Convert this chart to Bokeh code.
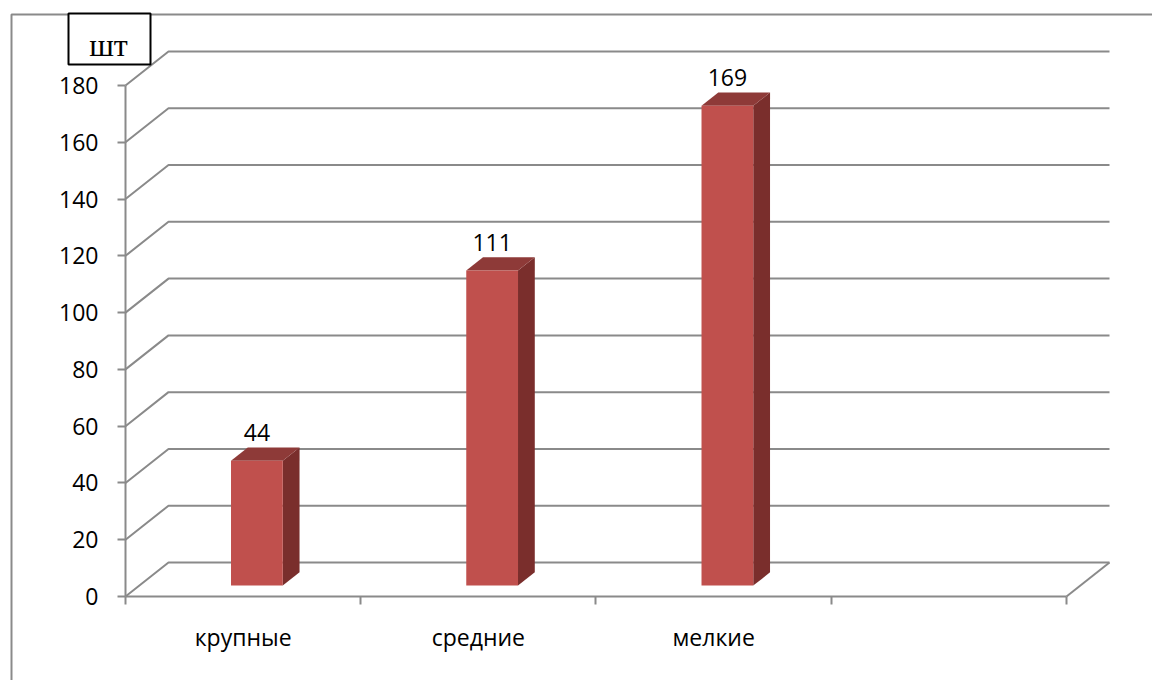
from bokeh.plotting import figure
from bokeh.models import Range1d, LinearAxis, FixedTicker, BoxAnnotation, Label, ColumnDataSource
from bokeh.core.properties import value
from bokeh.embed import file_html
from bokeh.resources import INLINE

# ---- data ----
categories = ["крупные", "средние", "мелкие", ""]
values = [44, 111, 169]
value_labels = ["44", "111", "169"]
y_ticks = [0, 20, 40, 60, 80, 100, 120, 140, 160, 180]
unit_label = "шт"

# ---- style / geometry ----
GRAY = "#8a8a8a"
FRONT = "#c0504d"
SIDE = "#7a2e2c"
TOP = "#8e3a38"
FONT = "Open Sans"
DX, DY = 0.1828, 11.98      # depth of back wall in data units
F0, G = 0.32, 0.39          # bar front depth fraction, bar depth fraction
BW = 0.22                   # bar width (category units)
NCAT = len(categories)
W, H = 1152, 680

p = figure(width=W, height=H, output_backend="svg", toolbar_location=None,
           x_range=Range1d(-0.53135, 4.36557), y_range=Range1d(-29.589, 209.94),
           x_axis_type=None, y_axis_type=None, min_border=0,
           min_border_left=0, min_border_right=0, min_border_top=0, min_border_bottom=0)
p.grid.visible = False
p.outline_line_color = None
p.background_fill_color = "white"
p.border_fill_color = "white"

# outer frame and unit box (screen units from bottom-left)
p.add_layout(BoxAnnotation(left=11, right=3000, top=H - 14, bottom=-800,
                           left_units="screen", right_units="screen",
                           top_units="screen", bottom_units="screen",
                           fill_alpha=0, line_color=GRAY, line_alpha=1, line_width=2,
                           level="underlay"))
p.add_layout(BoxAnnotation(left=68, right=150, top=H - 13, bottom=H - 64,
                           left_units="screen", right_units="screen",
                           top_units="screen", bottom_units="screen",
                           fill_color="white", fill_alpha=1, line_color="black",
                           line_alpha=1, line_width=2))
p.add_layout(Label(x=108, y=H - 44, x_units="screen", y_units="screen", text=unit_label,
                   text_font="Liberation Serif", text_font_size="32px", text_color="black",
                   text_align="center", text_baseline="alphabetic"))

# gridlines (back wall + left wall diagonals)
gx = [[0, DX, NCAT + DX] for _ in y_ticks]
gy = [[v, v + DY, v + DY] for v in y_ticks]
p.multi_line(gx, gy, line_color=GRAY, line_width=2)
# floor right edge
p.line([NCAT, NCAT + DX], [0, DY], line_color=GRAY, line_width=2)

# bars
centers = [i + 0.5 for i in range(len(values))]
L = [c - BW / 2 + F0 * DX for c in centers]
R = [c + BW / 2 + F0 * DX for c in centers]
b0 = F0 * DY
tops = [v + F0 * DY for v in values]
sx, sy, tx, ty = [], [], [], []
for l, r, t in zip(L, R, tops):
    sx.append([r, r + G * DX, r + G * DX, r])
    sy.append([b0, b0 + G * DY, t + G * DY, t])
    tx.append([l, r, r + G * DX, l + G * DX])
    ty.append([t, t, t + G * DY, t + G * DY])
p.patches(sx, sy, fill_color=SIDE, line_color=None)
p.patches(tx, ty, fill_color=TOP, line_color=None)
p.quad(left=L, right=R, bottom=[b0] * len(values), top=tops, fill_color=FRONT, line_color=None)

src = ColumnDataSource(dict(x=[(l + r) / 2 for l, r in zip(L, R)], y=tops, t=value_labels))
p.text(x="x", y="y", text="t", source=src, text_font=value(FONT), text_font_size="23px",
       text_color="black", text_align="center", text_baseline="alphabetic", y_offset=-28)

# axes (fixed at the data origin)
yax = LinearAxis(ticker=FixedTicker(ticks=y_ticks, minor_ticks=[]), bounds=(0, 180),
                 fixed_location=0)
yax.axis_line_color = GRAY
yax.axis_line_width = 2
yax.major_tick_line_color = GRAY
yax.major_tick_line_width = 2
yax.major_tick_out = 8
yax.major_tick_in = 0
yax.minor_tick_out = 0
yax.major_label_standoff = 19
yax.major_label_text_font = FONT
yax.major_label_text_font_size = "23px"
yax.major_label_text_color = "black"
p.add_layout(yax, "left")

xax = LinearAxis(ticker=FixedTicker(ticks=centers + [3.5], minor_ticks=[0, 1, 2, 3, 4]),
                 bounds=(0, NCAT), fixed_location=0)
xax.major_label_overrides = {c: n for c, n in zip([0.5, 1.5, 2.5, 3.5], categories)}
xax.axis_line_color = GRAY
xax.axis_line_width = 2
xax.major_tick_out = 0
xax.major_tick_in = 0
xax.minor_tick_out = 8
xax.minor_tick_in = 0
xax.minor_tick_line_color = GRAY
xax.minor_tick_line_width = 2
xax.major_label_standoff = 17
xax.major_label_text_font = FONT
xax.major_label_text_font_size = "23px"
xax.major_label_text_color = "black"
p.add_layout(xax, "below")

open("out.html", "w").write(file_html(p, INLINE))
